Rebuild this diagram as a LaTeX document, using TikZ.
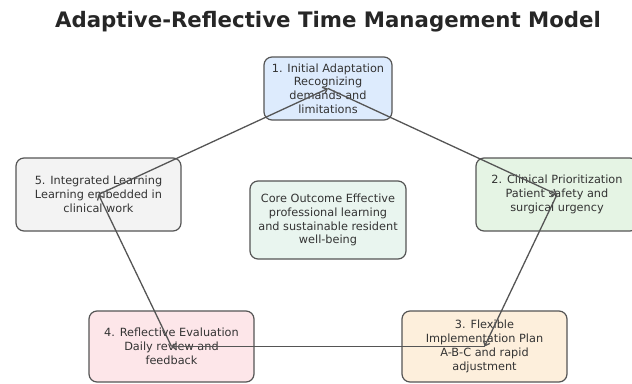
\documentclass[tikz,border=0pt]{standalone}
\usepackage{fontspec}
\setmainfont{DejaVu Sans}
\usetikzlibrary{arrows.meta}

\definecolor{edgegray}{HTML}{555555}
\definecolor{txtgray}{HTML}{333333}
\definecolor{fillblue}{HTML}{DDEBFD}
\definecolor{fillgreen}{HTML}{E5F4E4}
\definecolor{fillorange}{HTML}{FDEFDC}
\definecolor{fillpink}{HTML}{FDE6E9}
\definecolor{fillgray}{HTML}{F3F3F3}
\definecolor{fillmint}{HTML}{E9F5EF}

\begin{document}
\begin{tikzpicture}[x=1pt, y=-1pt, >={Straight Barb[length=4pt, width=7pt]},
  stage/.style={draw=edgegray, line width=1.2pt, rounded corners=8pt, align=center,
    font=\fontsize{11.3}{13.8}\selectfont, text=txtgray, minimum width=165pt, minimum height=72pt, inner sep=0pt},
  cycle/.style={->, draw=edgegray, line width=1.3pt},
  title/.style={font=\fontsize{21.3}{24}\selectfont\bfseries, text=black!85}]

  \useasboundingbox (0,0) rectangle (632,383);
  \clip (0,0) rectangle (632,383);

  % Title
  \node[title] (ttl) at (328,22) {Adaptive-Reflective Time Management Model};

  % Stages of the cycle
  \node[stage, fill=fillblue, minimum width=128pt, minimum height=63pt] (adapt) at (328,88.5)
    {1. Initial Adaptation\\Recognizing\\demands and\\limitations};
  \node[stage, fill=fillgreen, minimum width=162pt, minimum height=73pt] (prior) at (557,194.5)
    {2. Clinical Prioritization\\Patient safety and\\surgical urgency};
  \node[stage, fill=fillorange, minimum height=71pt] (plan) at (484.5,346.5)
    {3. Flexible\\Implementation Plan\\A-B-C and rapid\\adjustment};
  \node[stage, fill=fillpink, minimum height=71pt] (eval) at (171.5,346.5)
    {4. Reflective Evaluation\\Daily review and\\feedback};
  \node[stage, fill=fillgray, minimum height=73pt] (learn) at (98.5,194.5)
    {5. Integrated Learning\\Learning embedded in\\clinical work};

  % Core outcome in the middle
  \node[stage, fill=fillmint, minimum width=156pt, minimum height=78pt] (core) at (328,220)
    {Core Outcome Effective\\professional learning\\and sustainable resident\\well-being};

  % Cycle arrows, centre to centre
  \draw[cycle] (adapt.center) -- (prior.center);
  \draw[cycle] (prior.center) -- (plan.center);
  \draw[cycle] (plan.center) -- (eval.center);
  \draw[cycle] (eval.center) -- (learn.center);
  \draw[cycle] (learn.center) -- (adapt.center);

\end{tikzpicture}
\end{document}
